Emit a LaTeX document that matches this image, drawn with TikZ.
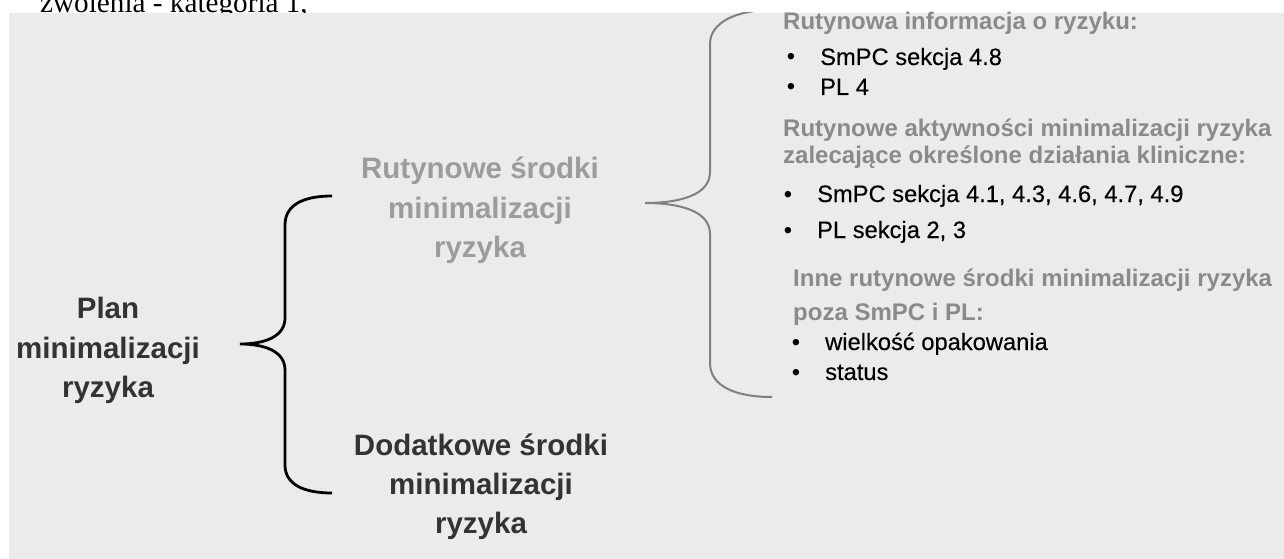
\documentclass[tikz,border=0pt]{standalone}
\usepackage{fontspec}
\setmainfont{Liberation Sans}
\newfontfamily\serifA{Liberation Serif}
\newfontfamily\itemSans{Liberation Sans}[FakeBold=0.3]
\definecolor{bgc}{HTML}{EBEBEB}
\definecolor{headgrey}{HTML}{8A8A8A}
\definecolor{midgrey}{HTML}{9C9C9C}
\definecolor{darktext}{HTML}{333333}
\definecolor{bracegrey}{HTML}{808080}
\tikzset{
  bigline/.style={font=\bfseries\fontsize{29.5}{40}\selectfont, inner sep=0pt, anchor=base},
  headline/.style={font=\bfseries\fontsize{24}{28}\selectfont, text=headgrey, inner sep=0pt, anchor=base west},
  itemline/.style={font=\itemSans\fontsize{23.7}{28}\selectfont, text=black, inner sep=0pt, anchor=base west},
  bulletdot/.style={font=\fontsize{23.7}{28}\selectfont, text=black, inner sep=0pt, anchor=base},
  toptext/.style={font=\serifA\fontsize{29.2}{34}\selectfont, text=black, inner sep=0pt, anchor=base west},
  bracegreyline/.style={draw=bracegrey, line width=2pt},
  braceblackline/.style={draw=black, line width=2.8pt}
}
\begin{document}
\begin{tikzpicture}[x=1pt,y=-1pt]
\useasboundingbox (0,0) rectangle (1284,559);
\node[toptext] (top) at (40,12.5) {zwolenia - kategoria 1,};
\fill[bgc] (9,13) rectangle (1284,559);

% left black brace
\coordinate (lbtop) at (332,196);
\coordinate (lbtip) at (240,344);
\coordinate (lbbot) at (332,493);
\draw[braceblackline] (lbtop) .. controls (303,196) and (285,205) .. (285,225) -- (285,318)
  .. controls (285,336) and (266,344) .. (lbtip)
  .. controls (266,344) and (285,352) .. (285,370) -- (285,465)
  .. controls (285,484) and (303,493) .. (lbbot);

% right grey brace (clipped by the panel)
\coordinate (rbtop) at (772,10);
\coordinate (rbtip) at (645,203);
\coordinate (rbbot) at (772,397);
\begin{scope}
\clip (9,13) rectangle (1284,559);
\draw[bracegreyline] (rbtop) .. controls (737,10) and (710,22) .. (710,44) -- (710,172)
  .. controls (710,195) and (680,203) .. (rbtip)
  .. controls (680,203) and (710,211) .. (710,234) -- (710,363)
  .. controls (710,386) and (735,397) .. (rbbot);
\end{scope}

% left text
\node[bigline, text=darktext] (plan1) at (108,318) {Plan};
\node[bigline, text=darktext] (plan2) at (108,358) {minimalizacji};
\node[bigline, text=darktext] (plan3) at (108,397) {ryzyka};

% middle texts
\node[bigline, text=midgrey] (rut1) at (480,178) {Rutynowe środki};
\node[bigline, text=midgrey] (rut2) at (480,218) {minimalizacji};
\node[bigline, text=midgrey] (rut3) at (480,257) {ryzyka};

\node[bigline, text=darktext] (dod1) at (481,455) {Dodatkowe środki};
\node[bigline, text=darktext] (dod2) at (481,494) {minimalizacji};
\node[bigline, text=darktext] (dod3) at (481,533) {ryzyka};

% right column
\node[headline] (h1) at (783,30) {Rutynowa informacja o ryzyku:};
\node[bulletdot] (b11) at (791,65) {•};
\node[itemline] (i11) at (820,65) {SmPC sekcja 4.8};
\node[bulletdot] (b12) at (791,95) {•};
\node[itemline] (i12) at (820,95) {PL 4};

\node[headline] (h2a) at (783,136) {Rutynowe aktywności minimalizacji ryzyka};
\node[headline] (h2b) at (783,163) {zalecające określone działania kliniczne:};
\node[bulletdot] (b21) at (788,202) {•};
\node[itemline] (i21) at (817,202) {SmPC sekcja 4.1, 4.3, 4.6, 4.7, 4.9};
\node[bulletdot] (b22) at (788,238) {•};
\node[itemline] (i22) at (817,238) {PL sekcja 2, 3};

\node[headline] (h3a) at (793,286) {Inne rutynowe środki minimalizacji ryzyka};
\node[headline] (h3b) at (793,320) {poza SmPC i PL:};
\node[bulletdot] (b31) at (796,350) {•};
\node[itemline] (i31) at (825,350) {wielkość opakowania};
\node[bulletdot] (b32) at (796,380) {•};
\node[itemline] (i32) at (825,380) {status};
\end{tikzpicture}
\end{document}
